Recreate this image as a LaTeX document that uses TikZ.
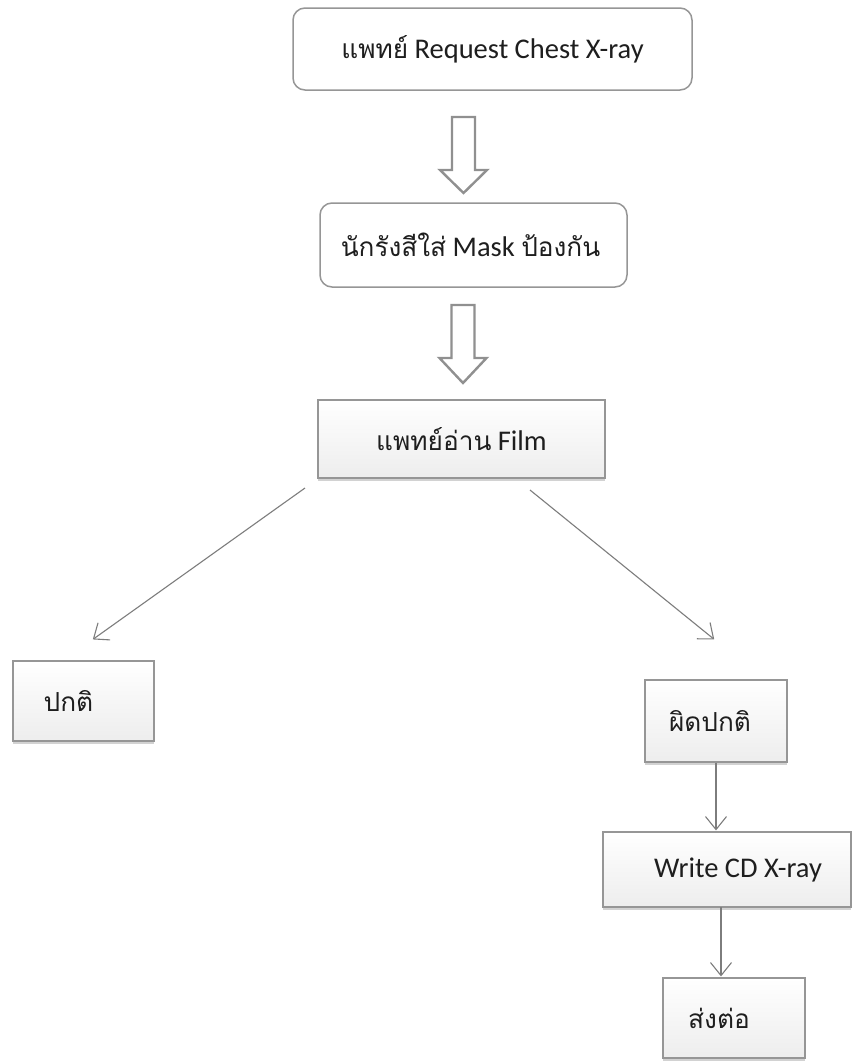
\documentclass[tikz,border=0pt]{standalone}
\usepackage{fontspec}
\setmainfont{Carlito}
\newfontfamily\thai[Script=Thai,Scale=0.92]{Loma}
\usetikzlibrary{arrows.meta,shadows}
\definecolor{edgegray}{RGB}{150,150,150}
\definecolor{conngray}{RGB}{125,125,125}
\definecolor{ink}{RGB}{30,30,30}
\begin{document}
\begin{tikzpicture}[x=1pt,y=-1pt,
  txt/.style={font=\fontsize{28.5}{33}\selectfont, text=ink, inner sep=0pt},
  rbox/.style={txt, draw=edgegray, line width=1.5pt, fill=white, rounded corners=12pt},
  sbox/.style={txt, draw=edgegray, line width=1.2pt, top color=white, bottom color=gray!14,
    drop shadow={shadow xshift=0pt, shadow yshift=-2.5pt, opacity=0.35, fill=gray}},
  conn/.style={draw=conngray, line width=1.1pt, shorten >=1pt,
    -{Straight Barb[length=13pt,width=21pt,line width=1.1pt]}},
  hollow/.style={draw=conngray!85, line width=2.4pt, fill=white, line join=miter}
]
\useasboundingbox[fill=white] (0,0) rectangle (852,1061);

\node[rbox, minimum width=399pt, minimum height=82pt] (b1) at (492.5,49) {{\thai แพทย์} Request Chest X-ray};
\node[rbox, minimum width=307pt, minimum height=84pt] (b2) at (473.5,245) {{\thai นักรังสีใส่} Mask {\thai ป้องกัน}\hspace*{6pt}};
\node[sbox, minimum width=287pt, minimum height=78pt] (b3) at (461.5,439) {{\thai แพทย์อ่าน} Film};
\node[sbox, minimum width=141pt, minimum height=80pt] (b4) at (83.5,701) {{\thai ปกติ}\hspace*{30pt}};
\node[sbox, minimum width=142pt, minimum height=82pt] (b5) at (716,721) {{\thai ผิดปกติ}\hspace*{12pt}};
\node[sbox, minimum width=248pt, minimum height=75pt] (b6) at (727,869.5) {\hspace*{22pt}Write CD X-ray};
\node[sbox, minimum width=142pt, minimum height=80pt] (b7) at (734,1018) {{\thai ส่งต่อ}\hspace*{30pt}};

% hollow block arrows
\coordinate (h1) at (463.5,117);
\coordinate (h2) at (463,305);
\draw[hollow] (h1) ++(-11.5,0) -- ++(0,53) -- ++(-12,0) -- ++(23.5,23) -- ++(23.5,-23) -- ++(-12,0) -- ++(0,-53) -- cycle;
\draw[hollow] (h2) ++(-11.5,0) -- ++(0,53) -- ++(-12,0) -- ++(23.5,25) -- ++(23.5,-25) -- ++(-12,0) -- ++(0,-53) -- cycle;

% branch connectors
\coordinate (c1) at (305,488);
\coordinate (c2) at (92,640);
\coordinate (c3) at (530,490);
\coordinate (c4) at (715,640);
\draw[conn] (c1) -- (c2);
\draw[conn] (c3) -- (c4);
\draw[conn] (b5.south) -- (b5.south |- b6.north);
\coordinate (c5) at (721,907);
\draw[conn] (c5) -- (c5 |- b7.north);
\end{tikzpicture}
\end{document}
